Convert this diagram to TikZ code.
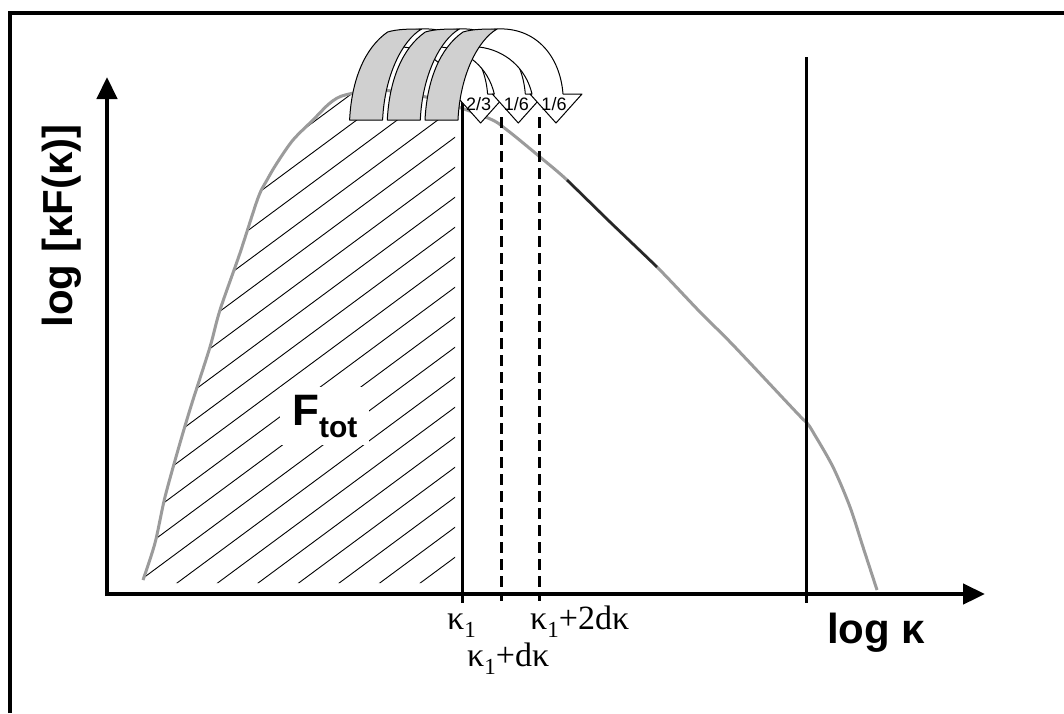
\documentclass[tikz,border=0pt]{standalone}
\usepackage{fontspec}
\setmainfont{Liberation Sans}
\newfontfamily\serifk{Liberation Serif}
\usetikzlibrary{arrows.meta}
\definecolor{arrgrey}{RGB}{208,208,208}
\definecolor{curvegrey}{RGB}{155,155,155}
\newcommand\kone{κ\raisebox{-8pt}{\fontsize{23}{23}\selectfont 1}}
\newcommand\curvedarr[3]{%
  \begin{scope}[xshift=#1]
    \filldraw[arrwhite] (485,30) -- (497,29) .. controls (535,27) and (560,55) .. (563,94)
      -- (582,94) -- (556,123) -- (530,94) -- (532,94)
      .. controls (526,68) and (505,50) .. (479,47) -- (472,45) -- cycle;
    \filldraw[arrgreyst] (425,120) .. controls (427,80) and (440,48) .. (463,32)
      .. controls (473,29) and (485,29) .. (497,29)
      .. controls (478,40) and (460,75) .. (458,120) -- cycle;
    \node[fraclab] (#3) at (554,104) {#2};
  \end{scope}}
\begin{document}
\begin{tikzpicture}[x=1pt,y=-1pt,
  axisline/.style={line width=4.5pt,-{Triangle[length=22pt,width=20pt]}},
  vline/.style={line width=3pt},
  dline/.style={line width=3pt,dash pattern=on 11pt off 6pt},
  hatchline/.style={line width=0.9pt},
  curveline/.style={curvegrey,line width=3pt},
  arrwhite/.style={fill=white,draw=black,line width=1pt,line join=round},
  arrgreyst/.style={fill=arrgrey,draw=black,line width=1pt,line join=round},
  fraclab/.style={font=\fontsize{18}{18}\selectfont,inner sep=0pt},
  klabel/.style={font=\serifk\fontsize{34}{40}\selectfont,inner sep=0pt},
  biglabel/.style={font=\bfseries\fontsize{42}{48}\selectfont,inner sep=0pt}]
\useasboundingbox (0,0) rectangle (1064,713);
% frame
\draw[line width=3.5pt] (10,713) -- (10,13) -- (1064,13);
% hatching
\begin{scope}
  \clip plot[smooth] coordinates {(143,583) (155,543) (165,497) (180,443) (192,403) (210,347)
     (220,310) (240,253) (258,198) (267,180) (277,163) (293,140) (313,120) (330,103) (343,95)}
     -- (352,95) -- (352,120) -- (455,120) -- (455,583) -- cycle;
  \foreach \c in {130,160,...,880} \draw[hatchline] (100,\c) -- ++(400,-296);
\end{scope}
\node[fill=white,inner xsep=12pt,inner ysep=8pt,anchor=base west,
      font=\bfseries\fontsize{44}{44}\selectfont] (ftot) at (280,425)
      {F\raisebox{-12pt}{\fontsize{30}{30}\selectfont tot}};
% curve
\draw[curveline] plot[smooth] coordinates {(143,580) (155,543) (165,497) (180,443) (192,403)
   (210,347) (220,310) (240,253) (258,198) (267,180) (277,163) (293,140) (313,120) (330,103)
   (345,95) (380,90) (430,98) (488,118) (507,130) (540,157) (567,180) (610,222) (657,267)
   (700,312) (733,345) (797,413) (807,423) (813,432) (833,467) (850,507) (863,547) (877,590)};
\draw[black!85,line width=2.5pt] (567,180) -- (610,222) -- (657,267);
% vertical lines
\coordinate (k1top) at (462,100); \coordinate (k1bot) at (462,603);
\coordinate (d1top) at (501,117); \coordinate (d1bot) at (501,601);
\coordinate (d2top) at (539,117); \coordinate (d2bot) at (539,601);
\coordinate (rtop) at (806,57);   \coordinate (rbot) at (806,603);
\draw[vline] (k1top) -- (k1bot);
\draw[dline] (d1top) -- (d1bot);
\draw[dline] (d2top) -- (d2bot);
\draw[vline] (rtop) -- (rbot);
% axes
\coordinate (ybot) at (107,596); \coordinate (ytip) at (107,77);
\coordinate (xleft) at (105,594); \coordinate (xtip) at (985,594);
\draw[axisline] (ybot) -- (ytip);
\draw[axisline] (xleft) -- (xtip);
% curved arrows
\curvedarr{-75.4pt}{2/3}{fa}
\curvedarr{-37.7pt}{1/6}{fb}
\curvedarr{0pt}{1/6}{fc}
% labels
\node[biglabel,rotate=90,anchor=base] (ylab) at (72,226) {log [κF(κ)]};
\node[biglabel,anchor=base west] (xlab) at (827,643) {log κ};
\node[klabel,anchor=base west] (lk1) at (447,629) {\kone};
\node[klabel,anchor=base west] (lk2) at (530,629) {\kone+2dκ};
\node[klabel,anchor=base west] (lk3) at (467,666) {\kone+dκ};
\end{tikzpicture}
\end{document}
